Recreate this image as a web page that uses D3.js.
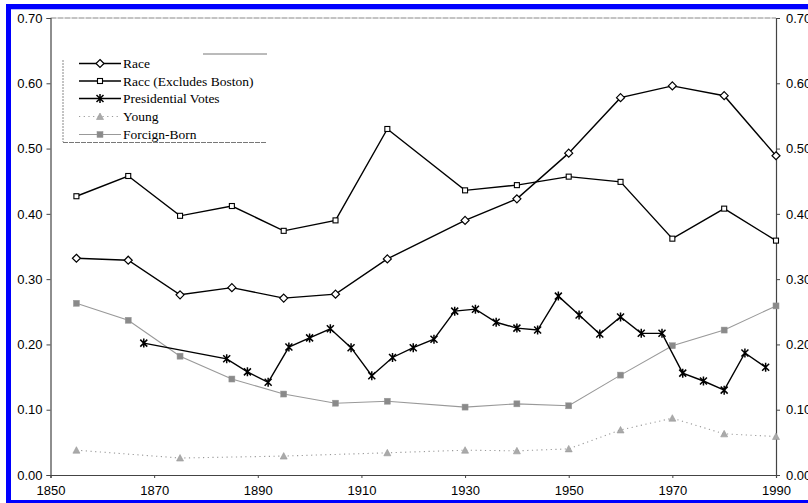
<!DOCTYPE html>
<html>
<head>
<meta charset="utf-8">
<script src="https://cdn.jsdelivr.net/npm/d3@7"></script>
<style>
html,body{margin:0;padding:0;background:#fff;overflow:hidden;}
svg{display:block;}
</style>
</head>
<body>
<svg id="chart" width="808" height="503"></svg>
<script>
// ---- data ----
const raceYears = [1855,1865,1875,1885,1895,1905,1915,1930,1940,1950,1960,1970,1980,1990];
const raceValues = [0.332,0.329,0.276,0.287,0.271,0.277,0.331,0.390,0.423,0.493,0.578,0.596,0.581,0.489];
const raceExBostonValues = [0.427,0.458,0.397,0.412,0.374,0.390,0.530,0.436,0.444,0.457,0.449,0.362,0.408,0.359];
const presYears = [1868,1884,1888,1892,1896,1900,1904,1908,1912,1916,1920,1924,1928,1932,1936,1940,1944,1948,1952,1956,1960,1964,1968,1972,1976,1980,1984,1988];
const presValues = [0.202,0.178,0.158,0.142,0.196,0.210,0.224,0.195,0.152,0.180,0.195,0.208,0.251,0.254,0.234,0.225,0.222,0.274,0.245,0.216,0.242,0.217,0.217,0.156,0.144,0.130,0.187,0.165];
const youngYears = [1855,1875,1895,1915,1930,1940,1950,1960,1970,1980,1990];
const youngValues = [0.038,0.026,0.029,0.034,0.038,0.037,0.040,0.069,0.087,0.063,0.059];
const foreignYears = [1855,1865,1875,1885,1895,1905,1915,1930,1940,1950,1960,1970,1980,1990];
const foreignValues = [0.263,0.237,0.182,0.147,0.124,0.110,0.113,0.104,0.109,0.106,0.153,0.198,0.222,0.259];
const xTicks = [1850,1870,1890,1910,1930,1950,1970,1990];
const yTicks = [0,0.1,0.2,0.3,0.4,0.5,0.6,0.7];
const legendLabels = ["Race","Racc (Excludes Boston)","Presidential Votes","Young","Forcign-Born"];

const svg = d3.select("#chart");
const x = d3.scaleLinear().domain([1850,1990]).range([50.5,776]);
const y = d3.scaleLinear().domain([0,0.7]).range([475,18]);

// blue frame
svg.append("rect").attr("x",8.5).attr("y",6.5).attr("width",900).attr("height",496)
  .attr("fill","none").attr("stroke","#0000ff").attr("stroke-width",5);
svg.append("line").attr("x1",11).attr("x2",808).attr("y1",9.5).attr("y2",9.5)
  .attr("stroke","#b8b8ff").attr("stroke-width",1);

// plot frame top
svg.append("line").attr("x1",x(1850)).attr("x2",x(1990)).attr("y1",y(0.7)).attr("y2",y(0.7))
  .attr("stroke","#888").attr("stroke-width",1).attr("stroke-dasharray","6,1");

const fontAxis = "Liberation Sans, Arial, sans-serif";
// left axis
const yL = d3.axisLeft(y).tickValues(yTicks).tickFormat(d3.format(".2f")).tickSize(4).tickPadding(4);
const gL = svg.append("g").attr("transform",`translate(${x(1850)},0)`).call(yL);
// right axis
const yR = d3.axisRight(y).tickValues(yTicks).tickFormat(d3.format(".2f")).tickSize(4).tickPadding(6);
const gR = svg.append("g").attr("transform",`translate(${x(1990)},0)`).call(yR);
// bottom axis
const xB = d3.axisBottom(x).tickValues(xTicks).tickFormat(d3.format("d")).tickSize(3).tickPadding(8);
const gB = svg.append("g").attr("transform",`translate(0,${y(0)})`).call(xB);
[gL,gR,gB].forEach(g=>{
  g.select(".domain").attr("stroke","#444").attr("stroke-width",1.2);
  g.selectAll(".tick line").attr("stroke","#444");
  g.selectAll("text").attr("font-family",fontAxis).attr("font-size","13px").attr("fill","#000");
});

// line generators
const line = d3.line().x(d=>x(d[0])).y(d=>y(d[1]));
const zip = (a,b)=>a.map((v,i)=>[v,b[i]]);

const raceData = zip(raceYears,raceValues);
const raceExData = zip(raceYears,raceExBostonValues);
const presData = zip(presYears,presValues);
const youngData = zip(youngYears,youngValues);
const foreignData = zip(foreignYears,foreignValues);

// marker drawers
function diamond(g,cx,cy){g.append("path").attr("d",`M${cx},${cy-4}L${cx+4},${cy}L${cx},${cy+4}L${cx-4},${cy}Z`).attr("fill","#fff").attr("stroke","#000").attr("stroke-width",1.2);}
function square(g,cx,cy){g.append("rect").attr("x",cx-2.5).attr("y",cy-2.5).attr("width",5).attr("height",5).attr("fill","#fff").attr("stroke","#000").attr("stroke-width",1.1);}
function star(g,cx,cy){g.append("path").attr("d",`M${cx-3.5},${cy-3.5}L${cx+3.5},${cy+3.5}M${cx+3.5},${cy-3.5}L${cx-3.5},${cy+3.5}M${cx},${cy-4.5}L${cx},${cy+4.5}`).attr("stroke","#000").attr("stroke-width",1.5).attr("fill","none");}
function tri(g,cx,cy){g.append("path").attr("d",`M${cx},${cy-3.5}L${cx+3.5},${cy+3}L${cx-3.5},${cy+3}Z`).attr("fill","#aaa").attr("stroke","#999").attr("stroke-width",0.6);}
function gsq(g,cx,cy){g.append("rect").attr("x",cx-3).attr("y",cy-3).attr("width",6).attr("height",6).attr("fill","#8a8a8a").attr("stroke","#999").attr("stroke-width",0.5);}

// series
const series = [
  {data:youngData, stroke:"#999", width:1.1, dash:"1.2,3.5", mk:tri},
  {data:foreignData, stroke:"#999", width:1.1, dash:null, mk:gsq},
  {data:raceData, stroke:"#000", width:1.4, dash:null, mk:diamond},
  {data:raceExData, stroke:"#000", width:1.4, dash:null, mk:square},
  {data:presData, stroke:"#000", width:1.4, dash:null, mk:star}
];
series.forEach(s=>{
  const g = svg.append("g");
  g.append("path").datum(s.data).attr("d",line).attr("fill","none")
    .attr("stroke",s.stroke).attr("stroke-width",s.width)
    .attr("stroke-dasharray",s.dash);
  s.data.forEach(d=>s.mk(g,x(d[0]),y(d[1])));
});

// legend box (partial, as in scan)
const lg = svg.append("g");
lg.append("line").attr("x1",203).attr("x2",267).attr("y1",54).attr("y2",54).attr("stroke","#777").attr("stroke-width",1);
lg.append("line").attr("x1",63).attr("x2",63).attr("y1",60).attr("y2",142).attr("stroke","#888").attr("stroke-width",1).attr("stroke-dasharray","2,1");
lg.append("line").attr("x1",63).attr("x2",267).attr("y1",142.5).attr("y2",142.5).attr("stroke","#777").attr("stroke-width",1).attr("stroke-dasharray","5,1");
const legendY = [63.5,81,98.5,116.5,134.5];
const legendSeries = [series[2],series[3],series[4],series[0],series[1]];
legendLabels.forEach((lab,i)=>{
  const s = legendSeries[i];
  const ly = legendY[i];
  lg.append("line").attr("x1",79).attr("x2",121).attr("y1",ly).attr("y2",ly)
    .attr("stroke",s.stroke).attr("stroke-width",s.width).attr("stroke-dasharray",s.dash);
  s.mk(lg,100,ly);
  lg.append("text").attr("x",123).attr("y",ly+4.5).text(lab)
    .attr("font-family","Liberation Serif, Times New Roman, serif").attr("font-size","13.5px").attr("fill","#000");
});
</script>
</body>
</html>
